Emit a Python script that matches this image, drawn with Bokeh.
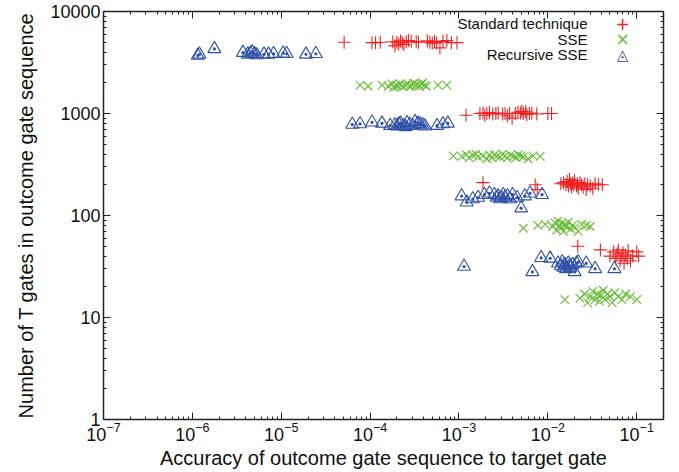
from bokeh.plotting import figure
from bokeh.models import LogAxis, Label, NumeralTickFormatter, LogTicker
from bokeh.embed import file_html
from bokeh.resources import INLINE

# ---- data ----
std_x = [5.1e-5, 1.05e-4, 1.15e-4, 1.3e-4, 1.8e-4, 1.9e-4, 2.0e-4, 2.1e-4, 2.2e-4, 2.3e-4, 2.4e-4, 2.55e-4,
         2.7e-4, 2.9e-4, 3.3e-4, 3.5e-4, 4.4e-4, 4.7e-4, 5.0e-4, 5.3e-4, 5.6e-4, 6.1e-4, 6.6e-4, 7.3e-4,
         8.2e-4, 9.5e-4,
         1.2e-3, 1.72e-3, 1.86e-3, 1.95e-3, 2.06e-3, 2.2e-3, 2.4e-3, 2.6e-3, 2.76e-3, 3.1e-3, 3.3e-3, 3.5e-3,
         3.7e-3, 3.96e-3, 4.3e-3, 4.6e-3, 4.9e-3, 5.1e-3, 5.3e-3, 5.6e-3, 5.8e-3, 6.2e-3, 6.6e-3, 7.5e-3,
         1.0e-2, 1.1e-2,
         1.86e-3, 7.2e-3, 7.6e-3,
         1.4e-2, 1.5e-2, 1.6e-2, 1.65e-2, 1.7e-2, 1.75e-2, 1.8e-2, 1.85e-2, 1.9e-2, 1.95e-2, 2.0e-2, 2.1e-2,
         2.15e-2, 2.2e-2, 2.3e-2, 2.4e-2, 2.5e-2, 2.6e-2, 2.7e-2, 2.8e-2, 3.0e-2, 3.2e-2, 3.4e-2, 3.7e-2, 4.1e-2,
         2.17e-2, 3.9e-2, 5.0e-2, 5.5e-2, 5.8e-2, 6.0e-2, 6.2e-2, 6.5e-2, 6.7e-2, 7.0e-2, 7.2e-2, 7.5e-2,
         7.8e-2, 8.0e-2, 8.5e-2, 9.0e-2, 1.0e-1, 1.05e-1]
std_y = [5000, 4950, 4950, 5000, 5050, 4600, 5000, 4800, 5150, 4950, 4750, 5050,
         5200, 5100, 5050, 5000, 5150, 5000, 4900, 5100, 4950, 4400, 5100, 5200,
         4950, 4950,
         960, 1000, 1010, 960, 1000, 1020, 990, 1000, 1010, 990, 1000, 950,
         1000, 900, 1000, 1030, 1010, 1050, 1000, 1040, 980, 1000, 1010, 990,
         1000, 1000,
         210, 200, 180,
         205, 210, 200, 215, 195, 225, 205, 190, 210, 200, 220, 195,
         205, 185, 210, 200, 190, 205, 180, 200, 195, 185, 205, 200, 200,
         50, 46, 40, 44, 38, 42, 46, 36, 40, 43, 34, 41,
         38, 45, 36, 40, 44, 40]

sse_x = [7.7e-5, 9.5e-5, 1.36e-4, 1.6e-4, 1.75e-4, 1.85e-4, 1.95e-4, 2.05e-4, 2.15e-4, 2.25e-4, 2.35e-4,
         2.5e-4, 2.65e-4, 2.8e-4, 2.95e-4, 3.1e-4, 3.25e-4, 3.4e-4, 3.6e-4, 3.75e-4, 3.9e-4, 4.1e-4, 4.3e-4,
         5.8e-4, 7.3e-4,
         8.6e-4, 1.07e-3, 1.2e-3, 1.3e-3, 1.43e-3, 1.55e-3, 1.64e-3, 1.85e-3, 2.06e-3, 2.2e-3, 2.34e-3, 2.5e-3,
         2.66e-3, 2.9e-3, 3.1e-3, 3.3e-3, 3.5e-3, 3.8e-3, 4.1e-3, 4.4e-3, 4.65e-3, 5.0e-3, 5.3e-3, 6.0e-3,
         6.8e-3, 8.2e-3,
         5.3e-3, 7.7e-3, 9.3e-3, 1.13e-2, 1.2e-2, 1.25e-2, 1.3e-2, 1.35e-2, 1.4e-2, 1.45e-2, 1.5e-2, 1.55e-2,
         1.6e-2, 1.7e-2, 1.8e-2, 1.9e-2, 2.0e-2, 2.2e-2, 2.4e-2, 2.7e-2, 3.0e-2,
         1.55e-2, 2.3e-2, 2.6e-2, 2.8e-2, 3.0e-2, 3.2e-2, 3.4e-2, 3.6e-2, 3.8e-2, 4.0e-2, 4.2e-2, 4.4e-2,
         4.7e-2, 5.0e-2, 5.3e-2, 5.7e-2, 6.2e-2, 6.8e-2, 7.5e-2, 8.5e-2, 1.0e-1]
sse_y = [1900, 1850, 1900, 1850, 1950, 1800, 1900, 1850, 1950, 1880, 1820,
         1900, 1950, 1850, 1900, 1980, 1870, 1930, 1850, 1950, 2000, 1900, 1850,
         1900, 1900,
         385, 380, 395, 370, 390, 400, 375, 385, 360, 390, 370, 395,
         380, 375, 400, 385, 365, 390, 380, 370, 395, 385, 375, 360,
         385, 380,
         75, 80, 82, 78, 85, 72, 88, 80, 75, 84, 70, 82,
         78, 86, 74, 80, 76, 70, 82, 80, 78,
         15, 15.5, 17, 14, 16, 18, 15, 17, 14.5, 16.5, 18.5, 15,
         17, 16, 14, 17.5, 16, 15, 17, 16, 15]

rsse_x = [1.15e-6, 1.2e-6, 1.77e-6, 3.7e-6, 4.2e-6, 4.5e-6, 4.7e-6, 5.0e-6, 5.3e-6, 6.4e-6, 7.2e-6, 8.2e-6,
          1.05e-5, 1.15e-5, 1.9e-5, 2.45e-5,
          6.3e-5, 7.7e-5, 1.05e-4, 1.36e-4, 1.68e-4, 1.9e-4, 2.0e-4, 2.1e-4, 2.2e-4, 2.35e-4, 2.5e-4, 2.6e-4,
          2.8e-4, 3.0e-4, 3.2e-4, 3.45e-4, 3.65e-4, 3.9e-4, 4.15e-4, 5.66e-4, 6.6e-4, 7.5e-4,
          1.07e-3, 1.22e-3, 1.43e-3, 1.64e-3, 1.93e-3, 2.2e-3, 2.5e-3, 2.65e-3, 2.76e-3, 2.9e-3, 3.0e-3,
          3.15e-3, 3.3e-3, 3.5e-3, 3.75e-3, 4.0e-3, 4.5e-3, 5.0e-3, 5.5e-3, 6.3e-3, 8.6e-3,
          1.14e-3, 6.7e-3, 8.4e-3, 1.06e-2, 1.3e-2, 1.4e-2, 1.45e-2, 1.5e-2, 1.55e-2, 1.6e-2, 1.7e-2,
          1.75e-2, 1.8e-2, 1.9e-2, 2.0e-2, 2.1e-2, 2.2e-2, 2.7e-2, 3.4e-2, 5.6e-2]
rsse_y = [3700, 3800, 4300, 3950, 3800, 3900, 4000, 3850, 3750, 3800, 3800, 3850,
          3900, 3850, 3800, 3850,
          780, 790, 820, 800, 760, 770, 750, 790, 800, 760, 740, 810,
          780, 760, 830, 800, 790, 770, 750, 760, 790, 800,
          155, 135, 145, 150, 160, 165, 160, 150, 155, 145, 150,
          160, 150, 155, 145, 160, 150, 118, 155, 165, 160,
          31.6, 28, 38.5, 38, 34, 32, 35, 31, 33, 30, 34,
          32, 31, 33, 28, 34, 35, 34, 30, 30]

series_names = ["Standard technique", "SSE", "Recursive SSE"]
legend_symbols = ["+", "\u00d7", "\u25ec"]
x_label = "Accuracy of outcome gate sequence to target gate"
y_label = "Number of T gates in outcome gate sequence"

FONT = "Liberation Sans"
RED, GREEN, BLUE = "#ee2222", "#66bb33", "#3050a8"
colors = [RED, GREEN, BLUE]

p = figure(width=679, height=472, x_axis_type="log", y_axis_type="log",
           x_range=(1e-7, 0.2), y_range=(1, 10000),
           output_backend="svg", toolbar_location=None,
           min_border_left=103, min_border_right=16, min_border_top=11, min_border_bottom=53)
p.grid.visible = False
p.outline_line_color = None
p.background_fill_color = "white"

p.scatter(std_x, std_y, marker="cross", size=13, line_color=RED, line_width=1.1)
p.scatter(sse_x, sse_y, marker="x", size=12, line_color=GREEN, line_width=1.1)
p.scatter(rsse_x, rsse_y, marker="triangle_dot", size=13, line_color=BLUE, fill_color=None,
          line_width=1.1)

def style_axis(ax, show_labels):
    ax.axis_line_color = "#222222"
    ax.axis_line_width = 1.5
    ax.major_tick_in = 7
    ax.major_tick_out = 0
    ax.minor_tick_in = 3
    ax.minor_tick_out = 0
    ax.major_tick_line_color = "#222222"
    ax.minor_tick_line_color = "#222222"
    ax.major_label_text_font = FONT
    ax.major_label_text_font_size = "18px" if show_labels else "1px"
    ax.major_label_text_color = "#111111" if show_labels else None
    ax.axis_label_text_font = FONT
    ax.axis_label_text_font_style = "normal"
    ax.axis_label_text_font_size = "20px"
    ax.axis_label_text_color = "#111111"
    ax.ticker = LogTicker(num_minor_ticks=10)

xa = p.xaxis[0]
ya = p.yaxis[0]
style_axis(xa, True)
style_axis(ya, True)
xa.axis_label = x_label
ya.axis_label = y_label
xa.major_label_standoff = 2
xa.axis_label_standoff = 3
ya.major_label_standoff = 3
ya.axis_label_standoff = 10
ya.formatter = NumeralTickFormatter(format="0")

top = LogAxis()
style_axis(top, False)
top.major_label_standoff = 0
p.add_layout(top, "above")
right = LogAxis()
style_axis(right, False)
right.major_label_standoff = 0
p.add_layout(right, "right")

# legend: right-aligned texts followed by the series symbol (frame-relative screen units)
for i, (name, sym, col) in enumerate(zip(series_names, legend_symbols, colors)):
    ly = 396 - 15.5 * i
    p.add_layout(Label(x=484, y=ly, x_units="screen", y_units="screen", text=name,
                       text_align="right", text_baseline="middle", text_font=FONT,
                       text_font_size="15px", text_color="#111111"))
    p.add_layout(Label(x=519, y=ly, x_units="screen", y_units="screen", text=sym,
                       text_align="center", text_baseline="middle", text_font="DejaVu Sans",
                       text_font_size="17px" if i < 2 else "15px", text_color=col))

open("out.html", "w").write(file_html(p, INLINE))
